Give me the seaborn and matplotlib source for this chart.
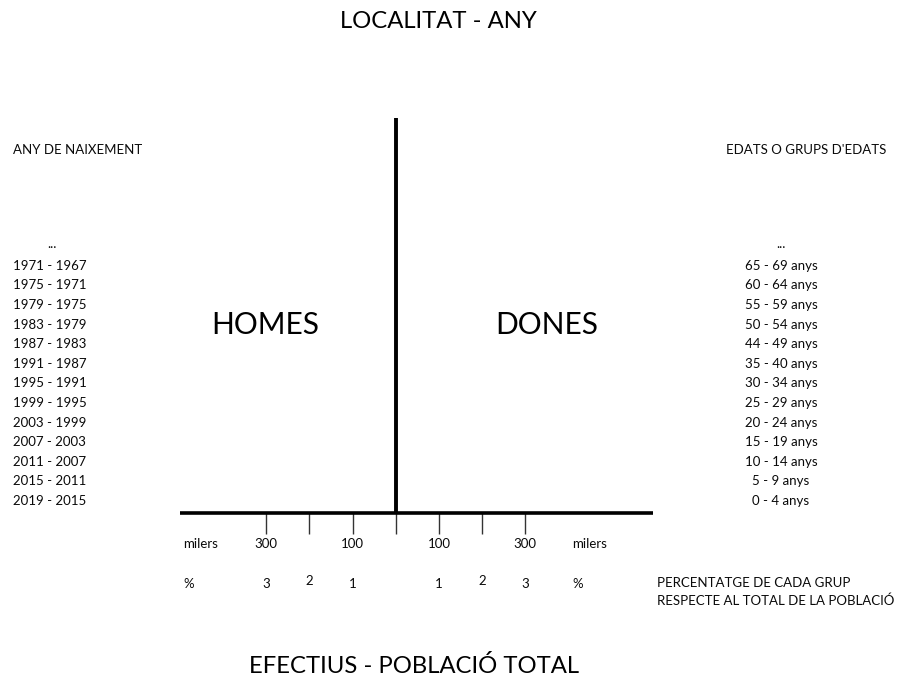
import matplotlib
matplotlib.use("Agg")
import matplotlib.pyplot as plt
import matplotlib.transforms as mtransforms
import seaborn as sns
import pandas as pd

# ---- data ----
age_groups = ["0 - 4 anys", "5 - 9 anys", "10 - 14 anys", "15 - 19 anys", "20 - 24 anys",
              "25 - 29 anys", "30 - 34 anys", "35 - 40 anys", "44 - 49 anys", "50 - 54 anys",
              "55 - 59 anys", "60 - 64 anys", "65 - 69 anys", "..."]
birth_years = ["2019 - 2015", "2015 - 2011", "2011 - 2007", "2007 - 2003", "2003 - 1999",
               "1999 - 1995", "1995 - 1991", "1991 - 1987", "1987 - 1983", "1983 - 1979",
               "1979 - 1975", "1975 - 1971", "1971 - 1967", "..."]
men_values = [0] * len(age_groups)      # blank template: no bars
women_values = [0] * len(age_groups)
tick_pos = [-300, -200, -100, 0, 100, 200, 300]
milers_labels = {-300: "300", -100: "100", 100: "100", 300: "300"}
pct_labels = {-300: "3", -200: "2", -100: "1", 100: "1", 200: "2", 300: "3"}

sns.set_theme(style="white")
plt.rcParams['font.family'] = ['Lato', 'DejaVu Sans']

W, H = 903, 693
fig = plt.figure(figsize=(W / 100, H / 100), dpi=100)

def fx(px):
    return px / W

def fy(py):
    return 1 - py / H

ax_left, ax_right, ax_top, ax_bottom = 180, 653, 118, 513
ax = fig.add_axes([fx(ax_left), fy(ax_bottom), (ax_right - ax_left) / W, (ax_bottom - ax_top) / H])

df = pd.DataFrame({
    "grup": list(range(len(age_groups))) * 2,
    "valor": [-v for v in men_values] + women_values,
    "sexe": ["Homes"] * len(age_groups) + ["Dones"] * len(age_groups),
})
sns.barplot(data=df, x="valor", y="grup", hue="sexe", orient="h", ax=ax,
            native_scale=True, legend=False, palette=["#555555", "#999999"])

ax.set_xlim(-500, 596)
ax.set_ylim(-0.61, 19.54)
for s in ["top", "left", "right"]:
    ax.spines[s].set_visible(False)
ax.spines["bottom"].set_linewidth(2.6)
ax.spines["bottom"].set_color("black")
ax.spines["bottom"].set_capstyle("butt")
ax.axvline(0, color="black", lw=2.8, solid_capstyle="butt")
ax.set_xticks(tick_pos)
ax.set_xticklabels([])
ax.tick_params(axis="x", direction="out", length=15, width=1.0, color="#333333", bottom=True)
ax.set_yticks([])
ax.set_xlabel("")
ax.set_ylabel("")

small = 9.5
txt_color = "#0a0a0a"

# tick label rows (data x, figure y)
trans_xf = mtransforms.blended_transform_factory(ax.transData, fig.transFigure)
for x, lab in milers_labels.items():
    ax.text(x, fy(544), lab, transform=trans_xf, ha="center", va="center", fontsize=small, color=txt_color)
for x, lab in pct_labels.items():
    yy = 581 if abs(x) == 200 else 584
    ax.text(x, fy(yy), lab, transform=trans_xf, ha="center", va="center", fontsize=small, color=txt_color)
fig.text(fx(183), fy(544), "milers", ha="left", va="center", fontsize=small, color=txt_color)
fig.text(fx(572), fy(544), "milers", ha="left", va="center", fontsize=small, color=txt_color)
fig.text(fx(183), fy(584), "%", ha="left", va="center", fontsize=small, color=txt_color)
fig.text(fx(572), fy(584), "%", ha="left", va="center", fontsize=small, color=txt_color)
fig.text(fx(657), fy(583), "PERCENTATGE DE CADA GRUP", ha="left", va="center", fontsize=small, color=txt_color)
fig.text(fx(657), fy(601), "RESPECTE AL TOTAL DE LA POBLACIÓ", ha="left", va="center", fontsize=small, color=txt_color)

# row labels (figure x, data y)
trans_fy = mtransforms.blended_transform_factory(fig.transFigure, ax.transData)
for i, lab in enumerate(birth_years):
    if lab == "...":
        ax.text(fx(52), i + 0.1, lab, transform=trans_fy, ha="center", va="center", fontsize=small, color=txt_color)
    else:
        ax.text(fx(13), i, lab, transform=trans_fy, ha="left", va="center", fontsize=small, color=txt_color)
for i, lab in enumerate(age_groups):
    ax.text(fx(781), i + (0.1 if lab == "..." else 0), lab, transform=trans_fy,
            ha="center", va="center", fontsize=small, color=txt_color)

fig.text(fx(13), fy(150), "ANY DE NAIXEMENT", ha="left", va="center", fontsize=small, color=txt_color)
fig.text(fx(886), fy(150), "EDATS O GRUPS D'EDATS", ha="right", va="center", fontsize=small, color=txt_color)

fig.text(fx(265), fy(325), "HOMES", ha="center", va="center", fontsize=21.5, color="black")
fig.text(fx(547), fy(325), "DONES", ha="center", va="center", fontsize=21.5, color="black")

fig.text(fx(438), fy(21), "LOCALITAT - ANY", ha="center", va="center", fontsize=17.2, color="black")
fig.text(fx(414), fy(666), "EFECTIUS - POBLACIÓ TOTAL", ha="center", va="center", fontsize=17.2, color="black")

fig.savefig("out.png", dpi=100, facecolor="white")
